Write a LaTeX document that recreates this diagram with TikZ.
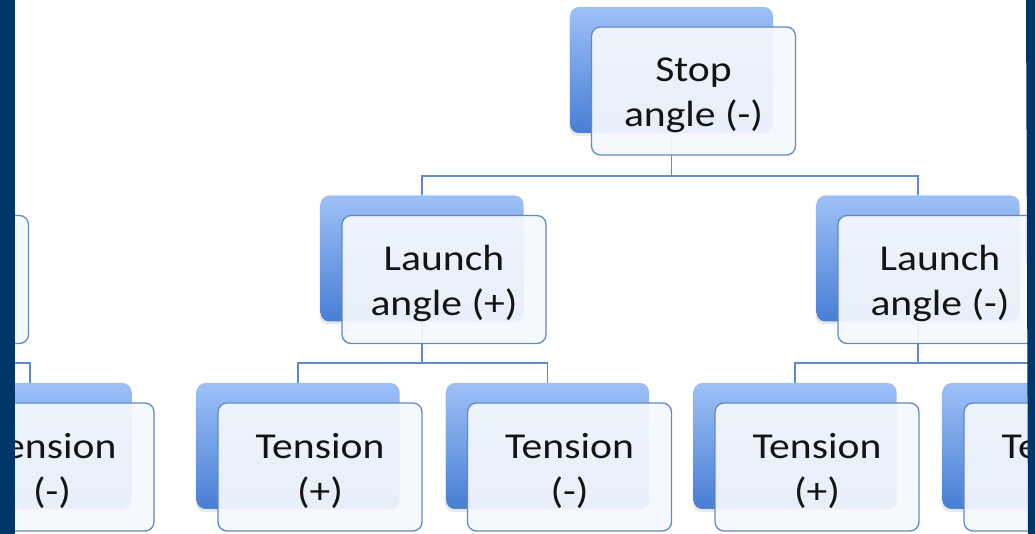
\documentclass[tikz,border=0pt]{standalone}
\usepackage{fontspec}
\setmainfont{Carlito}[FakeStretch=1.14]
\usetikzlibrary{positioning,shadows}
\definecolor{navy}{RGB}{0,54,104}
\definecolor{boxtop}{RGB}{158,192,247}
\definecolor{boxbot}{RGB}{72,126,212}
\definecolor{edge}{RGB}{95,137,200}
\definecolor{facefill}{RGB}{245,248,253}

\begin{document}
\begin{tikzpicture}[x = 1pt, y = 1pt,
  back/.style = {rectangle, rounded corners = 9pt, minimum width = 203pt, minimum height = 126pt,
    inner sep = 0pt, top color = boxtop, bottom color = boxbot,
    drop shadow = {opacity = 0.18, shadow xshift = -1pt, shadow yshift = -3pt}},
  face/.style = {rectangle, rounded corners = 9pt, minimum width = 204pt, minimum height = 128pt,
    inner sep = 0pt, draw = edge, line width = 1.3pt, fill = facefill, fill opacity = 0.93},
  caption/.style = {align = center, inner sep = 0pt, text = black!92,
    font = \fontsize{36.5}{45}\selectfont},
  link/.style = {draw = edge, line width = 1.3pt}]

\useasboundingbox (0, 0) rectangle (1035, 534);
\clip (0, 0) rectangle (1035, 534);
\fill [white] (0, 0) rectangle (1035, 534);

\coordinate (topbar) at (0, 358);
\coordinate (lowbar) at (0, 171);

\node [back] (stopB) at (671.5, 464) {};
\node [back] (llB) at (-95.5, 275.5) {};
\node [back] (lpB) at (422, 275.5) {};
\node [back] (lmB) at (918, 275.5) {};
\node [back] (t0B) at (30, 88) {};
\node [back] (t1B) at (298, 88) {};
\node [back] (t2B) at (547.5, 88) {};
\node [back] (t3B) at (795, 88) {};
\node [back] (t4B) at (1044, 88) {};

\draw [link] (stopB.south) -- (stopB.south |- topbar) -| (lpB.north);
\draw [link] (stopB.south) -- (stopB.south |- topbar) -| (lmB.north);
\draw [link] (llB.south) -- (llB.south |- lowbar) -| (t0B.north);
\draw [link] (lpB.south) -- (lpB.south |- lowbar) -| (t1B.north);
\draw [link] (lpB.south) -- (lpB.south |- lowbar) -| (t2B.north);
\draw [link] (lmB.south) -- (lmB.south |- lowbar) -| (t3B.north);
\draw [link] (lmB.south) -- (lmB.south |- lowbar) -| (t4B.north);

\node [face] (stopF) at ([shift = {(22, -21)}] stopB) {};
\node [face] (llF) at ([shift = {(22, -21)}] llB) {};
\node [face] (lpF) at ([shift = {(22, -21)}] lpB) {};
\node [face] (lmF) at ([shift = {(22, -21)}] lmB) {};
\node [face] (t0F) at ([shift = {(22, -21)}] t0B) {};
\node [face] (t1F) at ([shift = {(22, -21)}] t1B) {};
\node [face] (t2F) at ([shift = {(22, -21)}] t2B) {};
\node [face] (t3F) at ([shift = {(22, -21)}] t3B) {};
\node [face] (t4F) at ([shift = {(22, -21)}] t4B) {};

\node [caption] (stopT) at ([yshift = -4] stopF) {Stop\\angle (-)};
\node [caption] (lpT) at ([yshift = -4] lpF) {Launch\\angle (+)};
\node [caption] (lmT) at ([yshift = -4] lmF) {Launch\\angle (-)};
\node [caption] (t0T) at ([yshift = -4] t0F) {Tension\\(-)};
\node [caption] (t1T) at ([yshift = -4] t1F) {Tension\\(+)};
\node [caption] (t2T) at ([yshift = -4] t2F) {Tension\\(-)};
\node [caption] (t3T) at ([yshift = -4] t3F) {Tension\\(+)};
\node [caption] (t4T) at ([yshift = -4] t4F) {Tension\\(-)};

\fill [navy] (0, 0) rectangle (15, 534);
\fill [navy] (1026, 534) -- (1035, 534) -- (1035, 0) -- (1028, 0) -- cycle;

\end{tikzpicture}
\end{document}
